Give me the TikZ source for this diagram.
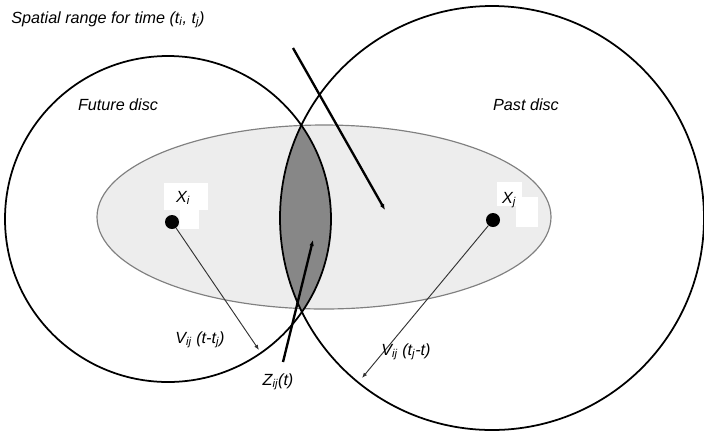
\documentclass[tikz,border=0pt]{standalone}
\usepackage{fontspec}
\setmainfont{Liberation Sans}
\usetikzlibrary{arrows.meta}

\newcommand{\sbs}[1]{\textsubscript{#1}}

\tikzset{
  disc/.style={line width=1.5pt},
  bigarrow/.style={line width=2pt, -{Latex[length=5pt,width=4pt]}},
  thinarrow/.style={line width=0.8pt, draw=black!80, -{Latex[length=4.5pt,width=3.5pt]}},
  site/.style={circle, fill=black, inner sep=0pt, minimum size=0.42cm},
  lbl/.style={font=\itshape\fontsize{13.8}{16}\selectfont, inner sep=1pt},
  patch/.style={fill=white, anchor=north west, inner sep=0pt}
}

\begin{document}
\begin{tikzpicture}[x=0.03cm, y=-0.03cm]
    % Frame in pixel units of the reference
    \useasboundingbox (0,0) rectangle (704,435);

    % Centres of the two discs
    \coordinate (cf) at (168,219);
    \coordinate (cp) at (492,218);

    % Ellipse of the spatial range
    \draw[draw=black!50, fill=black!7, line width=1pt] (324,217) ellipse (227 and 92);

    % Lens: intersection of the two discs
    \begin{scope}
      \clip (cf) circle (163);
      \fill[black!47] (cp) circle (212);
    \end{scope}

    % Future and past discs
    \draw[disc] (cf) circle (163);
    \draw[disc] (cp) circle (212);

    % Texts
    \node[lbl, anchor=west] (title) at (10,20) {Spatial range for time (t\sbs{i}, t\sbs{j})};
    \node[lbl] (future) at (118,105) {Future disc};
    \node[lbl] (past) at (526,105) {Past disc};

    % White patches behind the site labels
    \node[patch, minimum width=1.3cm, minimum height=0.8cm] at (164,183) {};
    \node[patch, minimum width=0.55cm, minimum height=0.55cm] at (180,210) {};
    \node[patch, minimum width=0.75cm, minimum height=0.7cm] at (497,182) {};
    \node[patch, minimum width=0.65cm, minimum height=0.9cm] at (516,197) {};

    % Sites
    \node[site] (xi) at (172,222) {};
    \node[site] (xj) at (493,220) {};
    \node[lbl] (xilab) at (183,198) {X\sbs{i}};
    \node[lbl] (xjlab) at (509,200) {X\sbs{j}};

    % Arrow ends
    \coordinate (rangetip) at (385,210);
    \coordinate (rangetail) at (293,48);
    \coordinate (ztip) at (313,240);
    \node[lbl] (zlab) at (278,382) {Z\sbs{ij}(t)};
    \coordinate (ztail) at (283,362);
    \coordinate (vi) at (259,350);
    \coordinate (vj) at (362,378);

    % Arrows
    \draw[bigarrow] (rangetail) -- (rangetip);
    \draw[bigarrow] (ztail) -- (ztip);
    \draw[thinarrow] (xi) -- (vi);
    \draw[thinarrow] (xj) -- (vj);

    % Velocity labels
    \node[lbl] (vilab) at (200,340) {V\sbs{ij} (t-t\sbs{j})};
    \node[lbl] (vjlab) at (406,352) {V\sbs{ij} (t\sbs{j}-t)};
\end{tikzpicture}
\end{document}
